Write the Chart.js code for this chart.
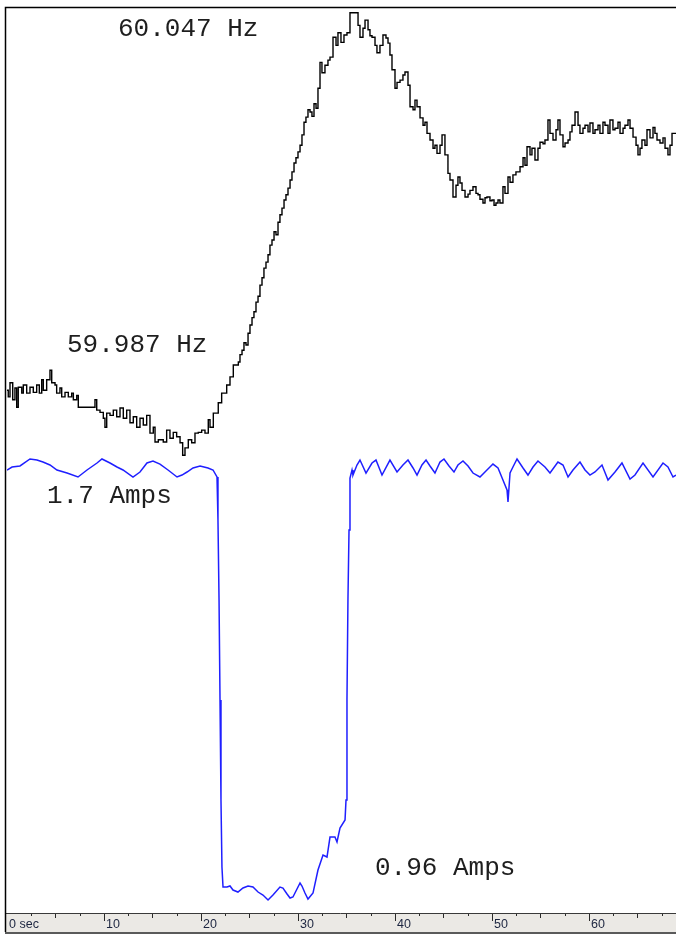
<!DOCTYPE html>
<html>
<head>
<meta charset="utf-8">
<title>Frequency and current recording</title>
<script src="https://cdn.jsdelivr.net/npm/chart.js@4.4.1/dist/chart.umd.min.js"></script>
<style>
  html, body { margin: 0; padding: 0; background: #ffffff; }
  #wrap { width: 676px; height: 937px; position: relative; }
  canvas { display: block; }
</style>
</head>
<body>
<div id="wrap"><canvas id="chart" width="676" height="937"></canvas></div>
<script>
// ---- Recorded grid frequency (Hz) ----
const freqTimeSec = [
  0.00, 0.13, 0.31, 0.59, 0.82, 1.00, 1.16, 1.52, 1.68, 2.03,
  2.37, 2.71, 3.06, 3.33, 3.58, 3.74, 4.09, 4.43, 4.61, 4.95,
  5.12, 5.46, 5.64, 5.98, 6.32, 6.67, 6.84, 7.19, 7.35, 8.90,
  9.07, 9.25, 9.59, 9.93, 10.10, 10.28, 10.62, 10.96, 11.31, 11.65,
  11.99, 12.34, 12.68, 13.02, 13.37, 13.71, 14.05, 14.40, 14.74, 15.08,
  15.26, 15.60, 16.11, 16.46, 16.80, 17.14, 17.49, 17.84, 18.11, 18.35,
  18.69, 19.04, 19.38, 19.72, 20.07, 20.41, 20.75, 20.93, 21.27, 21.78,
  22.13, 22.65, 22.99, 23.33, 23.85, 24.02, 24.23, 24.43, 24.64, 24.85,
  25.05, 25.26, 25.46, 25.67, 25.88, 26.08, 26.29, 26.49, 26.70, 26.91,
  27.11, 27.32, 27.53, 27.73, 27.94, 28.14, 28.35, 28.56, 28.76, 28.97,
  29.18, 29.38, 29.59, 29.79, 30.00, 30.21, 30.41, 30.62, 30.82, 31.03,
  31.24, 31.44, 31.65, 31.86, 32.06, 32.27, 32.47, 32.78, 33.09, 33.30,
  33.61, 33.92, 34.12, 34.43, 34.74, 35.05, 35.36, 35.88, 36.19, 36.39,
  36.70, 36.91, 37.22, 37.42, 37.63, 37.94, 38.14, 38.45, 38.76, 39.07,
  39.28, 39.48, 39.69, 40.00, 40.21, 40.52, 40.82, 41.03, 41.34, 41.55,
  41.86, 42.06, 42.27, 42.58, 42.89, 43.09, 43.30, 43.61, 43.92, 44.12,
  44.33, 44.64, 44.85, 45.15, 45.46, 45.67, 45.98, 46.29, 46.49, 46.70,
  46.91, 47.22, 47.53, 47.73, 48.04, 48.35, 48.56, 48.76, 49.07, 49.28,
  49.48, 49.79, 50.00, 50.21, 50.41, 50.62, 50.82, 51.13, 51.34, 51.65,
  51.86, 52.16, 52.47, 52.89, 53.20, 53.40, 53.61, 53.92, 54.12, 54.43,
  54.74, 54.95, 55.26, 55.46, 55.77, 55.98, 56.29, 56.60, 56.80, 57.01,
  57.32, 57.53, 57.84, 58.04, 58.25, 58.56, 58.87, 59.07, 59.38, 59.59,
  59.90, 60.10, 60.41, 60.62, 60.93, 61.13, 61.44, 61.65, 61.96, 62.16,
  62.47, 62.68, 62.99, 63.20, 63.51, 63.71, 64.02, 64.23, 64.54, 64.85,
  65.05, 65.26, 65.46, 65.77, 65.98, 66.29, 66.60, 66.80, 67.01, 67.32,
  67.63, 67.84, 68.14, 68.35, 68.56, 68.97
];
const freqHz = [
  59.9959, 59.9950, 59.9969, 59.9946, 59.9962, 59.9936, 59.9963, 59.9955, 59.9966, 59.9955,
  59.9963, 59.9956, 59.9966, 59.9955, 59.9973, 59.9959, 59.9973, 59.9986, 59.9969, 59.9966,
  59.9955, 59.9962, 59.9950, 59.9956, 59.9950, 59.9955, 59.9946, 59.9952, 59.9936, 59.9936,
  59.9946, 59.9932, 59.9929, 59.9921, 59.9909, 59.9928, 59.9925, 59.9932, 59.9923, 59.9935,
  59.9921, 59.9932, 59.9915, 59.9923, 59.9909, 59.9921, 59.9912, 59.9925, 59.9901, 59.9909,
  59.9889, 59.9892, 59.9889, 59.9905, 59.9894, 59.9902, 59.9896, 59.9888, 59.9871, 59.9881,
  59.9892, 59.9888, 59.9901, 59.9902, 59.9905, 59.9901, 59.9919, 59.9909, 59.9928, 59.9942,
  59.9955, 59.9966, 59.9977, 59.9993, 59.9997, 60.0007, 60.0013, 60.0023, 60.0020, 60.0036,
  60.0047, 60.0057, 60.0065, 60.0078, 60.0086, 60.0101, 60.0111, 60.0124, 60.0132, 60.0142,
  60.0155, 60.0162, 60.0173, 60.0169, 60.0186, 60.0196, 60.0205, 60.0216, 60.0223, 60.0232,
  60.0243, 60.0254, 60.0266, 60.0273, 60.0281, 60.0290, 60.0304, 60.0321, 60.0328, 60.0338,
  60.0335, 60.0329, 60.0346, 60.0340, 60.0367, 60.0402, 60.0388, 60.0398, 60.0405, 60.0409,
  60.0436, 60.0425, 60.0442, 60.0429, 60.0439, 60.0442, 60.0469, 60.0469, 60.0452, 60.0436,
  60.0448, 60.0459, 60.0446, 60.0438, 60.0436, 60.0425, 60.0415, 60.0425, 60.0439, 60.0435,
  60.0428, 60.0412, 60.0392, 60.0367, 60.0375, 60.0378, 60.0385, 60.0389, 60.0371, 60.0342,
  60.0338, 60.0351, 60.0342, 60.0327, 60.0317, 60.0321, 60.0306, 60.0297, 60.0286, 60.0290,
  60.0279, 60.0290, 60.0304, 60.0277, 60.0252, 60.0243, 60.0220, 60.0236, 60.0247, 60.0239,
  60.0229, 60.0220, 60.0224, 60.0229, 60.0234, 60.0225, 60.0223, 60.0217, 60.0212, 60.0219,
  60.0220, 60.0215, 60.0216, 60.0209, 60.0212, 60.0216, 60.0212, 60.0234, 60.0225, 60.0247,
  60.0240, 60.0250, 60.0254, 60.0261, 60.0273, 60.0263, 60.0288, 60.0277, 60.0286, 60.0270,
  60.0286, 60.0294, 60.0292, 60.0297, 60.0324, 60.0306, 60.0297, 60.0311, 60.0324, 60.0304,
  60.0288, 60.0293, 60.0297, 60.0308, 60.0317, 60.0335, 60.0317, 60.0306, 60.0313, 60.0317,
  60.0308, 60.0320, 60.0306, 60.0311, 60.0317, 60.0306, 60.0321, 60.0317, 60.0306, 60.0324,
  60.0311, 60.0313, 60.0321, 60.0306, 60.0313, 60.0317, 60.0324, 60.0313, 60.0301, 60.0290,
  60.0277, 60.0286, 60.0297, 60.0290, 60.0311, 60.0300, 60.0314, 60.0306, 60.0297, 60.0293,
  60.0300, 60.0286, 60.0277, 60.0290, 60.0306, 60.0306
];

// ---- Recorded load current (A) ----
const currentTimeSec = [
  0.00, 0.52, 1.34, 2.37, 3.09, 3.71, 4.43, 5.15, 6.19, 7.32,
  8.25, 9.28, 9.79, 10.62, 11.34, 11.96, 12.99, 13.71, 14.43, 15.05,
  15.77, 16.60, 17.53, 18.04, 18.56, 19.18, 19.90, 20.72, 21.24, 21.65,
  21.75, 21.86, 21.96, 22.06, 22.16, 22.27, 22.68, 22.99, 23.30, 23.81,
  24.33, 24.85, 25.36, 25.88, 26.39, 26.91, 27.42, 28.14, 28.45, 28.87,
  29.18, 29.48, 30.21, 30.41, 30.72, 31.03, 31.55, 32.06, 32.58, 32.99,
  33.30, 33.81, 34.02, 34.33, 34.85, 34.95, 35.05, 35.15, 35.26, 35.36,
  35.57, 35.67, 36.08, 36.39, 37.01, 37.63, 38.04, 38.66, 39.48, 40.21,
  40.82, 41.34, 41.86, 42.27, 42.78, 43.20, 43.61, 44.12, 44.64, 45.05,
  45.57, 46.08, 46.49, 47.01, 47.53, 48.04, 48.76, 49.48, 50.10, 50.62,
  51.13, 51.55, 51.65, 51.86, 52.16, 52.58, 53.20, 53.71, 54.23, 54.74,
  55.46, 55.98, 56.80, 57.32, 57.84, 58.35, 59.07, 59.59, 60.10, 60.62,
  61.34, 61.96, 62.68, 63.40, 64.23, 64.74, 65.57, 66.60, 67.63, 68.14,
  68.66, 68.97
];
const currentAmps = [
  1.6913, 1.6965, 1.6983, 1.7105, 1.7087, 1.7052, 1.7000, 1.6913, 1.6860, 1.6791,
  1.6913, 1.7035, 1.7105, 1.7035, 1.6965, 1.6913, 1.6791, 1.6878, 1.7035, 1.7070,
  1.7017, 1.6913, 1.6791, 1.6825, 1.6878, 1.6948, 1.6983, 1.6948, 1.6913, 1.6791,
  1.6040, 1.4644, 1.2899, 1.1154, 0.9984, 0.9635, 0.9635, 0.9653, 0.9583, 0.9548,
  0.9618, 0.9653, 0.9635, 0.9548, 0.9496, 0.9408, 0.9496, 0.9635, 0.9618, 0.9513,
  0.9443, 0.9461, 0.9705, 0.9653, 0.9531, 0.9426, 0.9531, 0.9932, 1.0194, 1.0159,
  1.0508, 1.0508, 1.0421, 1.0665, 1.0805, 1.1154, 1.2899, 1.4644, 1.5866, 1.6773,
  1.6913, 1.6825, 1.7000, 1.7087, 1.6860, 1.7035, 1.7087, 1.6825, 1.7087, 1.6878,
  1.7000, 1.7087, 1.6948, 1.6825, 1.7000, 1.7087, 1.6983, 1.6860, 1.7052, 1.7105,
  1.6983, 1.6878, 1.7000, 1.7070, 1.6983, 1.6860, 1.6791, 1.6913, 1.7017, 1.6948,
  1.6738, 1.6564, 1.6354, 1.6860, 1.6965, 1.7105, 1.6948, 1.6825, 1.6965, 1.7070,
  1.6965, 1.6860, 1.7052, 1.7000, 1.6791, 1.6913, 1.7052, 1.6913, 1.6825, 1.6878,
  1.7000, 1.6738, 1.6878, 1.7035, 1.6756, 1.6825, 1.7035, 1.6791, 1.7035, 1.6965,
  1.6791, 1.6825
];

// ---- Time axis ticks ----
const timeTickValues = [0, 10, 20, 30, 40, 50, 60];
const timeTickLabels = ['0 sec', '10', '20', '30', '40', '50', '60'];

// ---- Readout values written on the trace ----
const freqPeakHz = 60.047;
const freqLowHz = 59.987;
const currentNormalA = 1.7;
const currentDipA = 0.96;

const readouts = [
  { text: freqPeakHz.toFixed(3) + ' Hz', x: 118, y: 36 },
  { text: freqLowHz.toFixed(3) + ' Hz', x: 67, y: 352 },
  { text: currentNormalA.toFixed(1) + ' Amps', x: 47, y: 503 },
  { text: currentDipA.toFixed(2) + ' Amps', x: 375, y: 875 }
];

function toPoints(xs, ys) {
  return xs.map((t, i) => ({ x: t, y: ys[i] }));
}

// Frame around the trace area and the grey time ruler underneath it
const frameAndRuler = {
  id: 'frameAndRuler',
  afterDraw(chart) {
    const { ctx, chartArea, scales } = chart;
    const xs = scales.x;
    const left = 5;
    const right = chart.width;
    const top = chartArea.top;
    const bottom = chartArea.bottom;
    ctx.save();

    // ruler strip
    ctx.fillStyle = '#ebe9e5';
    ctx.fillRect(left, bottom, right - left, 19);
    ctx.fillStyle = '#ffffff';
    ctx.fillRect(0, bottom + 21, right, chart.height - bottom - 21);

    ctx.strokeStyle = '#3a3a3a';
    ctx.lineWidth = 1;
    ctx.beginPath();
    ctx.moveTo(left, bottom + 0.5);
    ctx.lineTo(right, bottom + 0.5);
    ctx.stroke();

    ctx.strokeStyle = '#5a5a5a';
    ctx.lineWidth = 2;
    ctx.beginPath();
    ctx.moveTo(left, bottom + 20);
    ctx.lineTo(right, bottom + 20);
    ctx.stroke();

    // ruler ticks: long every 10 s, medium every 5 s, short every 2.5 s
    ctx.strokeStyle = '#2a2a2a';
    ctx.lineWidth = 1;
    for (let k = 1; k * 2.5 <= xs.max; k++) {
      const t = k * 2.5;
      const px = Math.round(xs.getPixelForValue(t)) + 0.5;
      const len = (k % 4 === 0) ? 7 : (k % 2 === 0) ? 4 : 2;
      ctx.beginPath();
      ctx.moveTo(px, bottom + 1);
      ctx.lineTo(px, bottom + 1 + len);
      ctx.stroke();
    }

    // ruler labels
    ctx.fillStyle = '#1c2540';
    ctx.font = '12.5px "Liberation Sans", Arial, sans-serif';
    ctx.textAlign = 'left';
    ctx.textBaseline = 'alphabetic';
    timeTickValues.forEach((v, i) => {
      const px = xs.getPixelForValue(v);
      ctx.fillText(timeTickLabels[i], px + 2, bottom + 15);
    });

    // frame: left and top border
    ctx.strokeStyle = '#000000';
    ctx.lineWidth = 1.5;
    ctx.beginPath();
    ctx.moveTo(left + 0.5, bottom + 19);
    ctx.lineTo(left + 0.5, top + 0.5);
    ctx.lineTo(right, top + 0.5);
    ctx.stroke();

    // readouts
    ctx.fillStyle = '#1e1e1e';
    ctx.font = '26px "Liberation Mono", "Courier New", monospace';
    readouts.forEach(r => ctx.fillText(r.text, r.x, r.y));

    ctx.restore();
  }
};

new Chart(document.getElementById('chart'), {
  type: 'line',
  data: {
    datasets: [
      {
        label: 'Frequency (Hz)',
        data: toPoints(freqTimeSec, freqHz),
        yAxisID: 'yHz',
        borderColor: '#000000',
        borderWidth: 1.4,
        stepped: true,
        pointRadius: 0,
        fill: false
      },
      {
        label: 'Current (A)',
        data: toPoints(currentTimeSec, currentAmps),
        yAxisID: 'yAmp',
        borderColor: '#1f1fff',
        borderWidth: 1.5,
        tension: 0,
        pointRadius: 0,
        fill: false
      }
    ]
  },
  options: {
    responsive: false,
    devicePixelRatio: 1,
    animation: false,
    events: [],
    layout: { padding: { left: 7, top: 7, right: 0, bottom: 24 } },
    plugins: {
      legend: { display: false },
      tooltip: { enabled: false },
      title: { display: false }
    },
    scales: {
      x: { type: 'linear', min: 0, max: 68.97, display: false },
      yHz: { type: 'linear', min: 59.92525, max: 60.04768, display: false },
      yAmp: { type: 'linear', min: 0.9182, max: 2.4993, display: false }
    }
  },
  plugins: [frameAndRuler]
});
</script>
</body>
</html>
